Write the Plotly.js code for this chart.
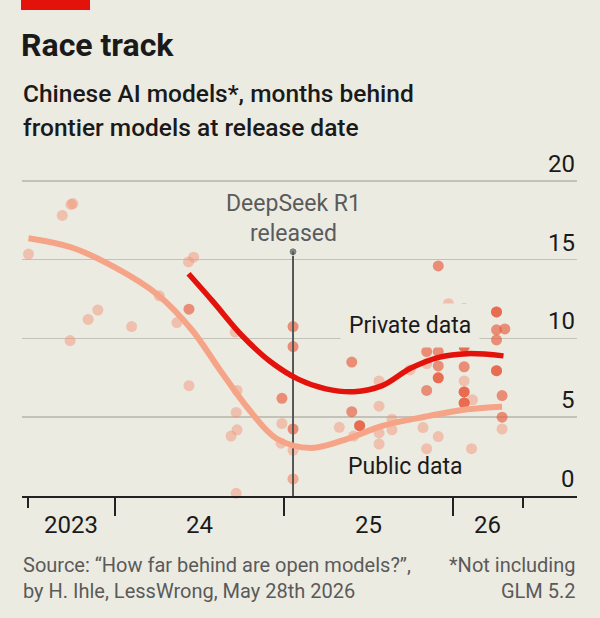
<!DOCTYPE html>
<html>
<head>
<meta charset="utf-8">
<script src="https://cdn.plot.ly/plotly-3.0.1.min.js"></script>
<style>
  html, body { margin: 0; padding: 0; background: #ecebe2; }
  #chart { width: 600px; height: 618px; }
</style>
</head>
<body>
<div id="chart"></div>
<script>
// ---------- data ----------
const publicDates = [
  '2023-06-28','2023-09-09','2023-09-28','2023-10-02','2023-11-04','2023-11-25','2023-09-26',
  '2024-02-06','2024-04-06','2024-05-14','2024-06-08','2024-06-19','2024-06-09',
  '2024-09-17','2024-09-21','2024-09-19','2024-09-21','2024-09-08','2024-09-19',
  '2024-12-27','2024-12-25','2025-01-20','2025-01-20','2025-01-20',
  '2025-04-30','2025-05-31','2025-07-25','2025-07-25','2025-07-25','2025-07-25',
  '2025-08-22','2025-08-22','2025-09-30','2025-10-28','2025-11-05','2025-11-05',
  '2025-11-30','2025-12-22','2026-01-25','2026-02-12','2026-02-10','2026-04-17'
];
const publicMonths = [
  15.35, 17.8, 18.5, 18.55, 11.2, 11.8, 9.86,
  10.75, 12.7, 11.0, 14.85, 15.15, 7.0,
  10.4, 6.7, 5.3, 4.2, 3.8, 0.17,
  4.6, 3.35, 2.9, 1.08, 1.08,
  4.36, 3.8, 7.3, 5.7, 4.0, 3.3,
  4.87, 4.2, 8.0, 4.34, 3.0, 8.4,
  3.77, 12.2, 7.3, 6.1, 3.0, 4.25
];

const privateDates = [
  '2024-06-09','2024-12-27','2025-01-20','2025-01-20','2025-01-20',
  '2025-05-27','2025-05-27','2025-06-13','2025-06-13',
  '2025-11-05','2025-11-05','2025-11-30','2025-11-30','2025-11-30','2025-11-30','2025-11-30',
  '2026-01-25','2026-01-25','2026-01-25','2026-01-25','2026-01-25','2026-01-25','2026-01-25','2026-01-25',
  '2026-04-05','2026-04-05','2026-04-05','2026-04-23','2026-04-05','2026-04-05','2026-04-05',
  '2026-04-17','2026-04-17'
];
const privateMonths = [
  11.85, 6.2, 10.75, 9.48, 4.25,
  8.5, 5.35, 4.46, 4.46,
  9.16, 6.7, 14.6, 9.16, 8.25, 7.5, 7.5,
  11.9, 9.48, 9.48, 8.2, 6.6, 6.6, 5.9, 5.9,
  11.68, 11.68, 10.54, 10.6, 9.9, 7.95, 7.95,
  6.37, 5.0
];

// smoothed trend lines
const publicTrendDates = [
  '2023-06-28','2023-10-01','2024-01-01','2024-04-01','2024-06-15','2024-08-15',
  '2024-10-15','2024-12-15','2025-03-01','2025-05-15','2025-08-01','2025-11-01',
  '2026-02-01','2026-04-17'
];
const publicTrend = [
  16.35, 15.75, 14.5, 12.8, 10.55, 8.0,
  5.55, 3.65, 3.05, 3.6, 4.45, 5.03,
  5.5, 5.67
];
const privateTrendDates = [
  '2024-06-08','2024-08-01','2024-10-01','2024-12-01','2025-02-01','2025-04-01',
  '2025-06-01','2025-08-01','2025-10-01','2025-12-01','2026-02-01','2026-04-20'
];
const privateTrend = [
  14.1, 12.3, 10.2, 8.55, 7.4, 6.8,
  6.62, 7.0, 8.1, 8.8, 9.03, 8.89
];

const eventDate = '2025-01-20';
const eventTop = 15.5;
const eventLabel = 'DeepSeek R1<br>released';

const yTickVals = [0, 5, 10, 15, 20];
const yTickText = ['0', '5', '10', '15', '20'];
const xBoundaries = ['2023-06-27', '2024-01-01', '2025-01-01', '2026-01-01', '2026-06-01'];
const xTickLabels = ['2023', '24', '25', '26'];

// ---------- styling ----------
const BG = '#ecebe2';
const FONT = 'Roboto, "Open Sans", sans-serif';
const PLOT_TOP = 165, PLOT_BOTTOM = 496, PLOT_LEFT = 22, PLOT_RIGHT = 577;
const py = (px) => (PLOT_BOTTOM - px) / (PLOT_BOTTOM - PLOT_TOP);
const pxX = (px) => (px - PLOT_LEFT) / (PLOT_RIGHT - PLOT_LEFT);

function midDate(a, b) {
  const t = (new Date(a).getTime() + new Date(b).getTime()) / 2;
  return new Date(t).toISOString().slice(0, 10);
}

const traces = [
  {
    type: 'scatter', mode: 'markers', name: 'Public data',
    x: publicDates, y: publicMonths,
    marker: { size: 11, color: 'rgba(242,150,120,0.5)', line: { width: 0 } },
    hoverinfo: 'skip', cliponaxis: false
  },
  {
    type: 'scatter', mode: 'markers', name: 'Private data',
    x: privateDates, y: privateMonths,
    marker: { size: 11, color: 'rgba(232,90,60,0.65)', line: { width: 0 } },
    hoverinfo: 'skip', cliponaxis: false
  },
  {
    type: 'scatter', mode: 'lines+markers', name: 'event',
    x: [eventDate, eventDate], y: [0, eventTop],
    line: { color: '#555555', width: 2 },
    marker: { size: [0, 8], color: '#555555' },
    hoverinfo: 'skip'
  },
  {
    type: 'scatter', mode: 'lines', name: 'Public trend',
    x: publicTrendDates, y: publicTrend,
    line: { color: '#f6a488', width: 6, shape: 'spline', smoothing: 1 },
    hoverinfo: 'skip'
  },
  {
    type: 'scatter', mode: 'lines', name: 'Private trend',
    x: privateTrendDates, y: privateTrend,
    line: { color: '#e3120b', width: 5.5, shape: 'spline', smoothing: 1 },
    hoverinfo: 'skip'
  }
];

const annotations = [];
// x-axis period labels centred between boundary ticks
for (let i = 0; i < xTickLabels.length; i++) {
  annotations.push({
    text: xTickLabels[i], x: midDate(xBoundaries[i], xBoundaries[i + 1]),
    xref: 'x', yref: 'paper', y: py(524.5), xanchor: 'center', yanchor: 'middle',
    showarrow: false, font: { family: FONT, size: 24, color: '#1a1a1a' }
  });
}
// y-axis labels sitting on top of their gridlines at the right edge
for (let i = 0; i < yTickVals.length; i++) {
  annotations.push({
    text: yTickText[i], x: 1, xref: 'paper', y: yTickVals[i], yref: 'y',
    xanchor: 'right', yanchor: 'bottom', yshift: 1, showarrow: false,
    font: { family: FONT, size: 24, color: '#1a1a1a' }
  });
}
annotations.push(
  { text: 'Chinese AI models*, months behind', xref: 'paper', yref: 'paper',
    x: pxX(21), y: py(93), xanchor: 'left', yanchor: 'middle', showarrow: false,
    font: { family: FONT, size: 24.5, color: '#1a1a1a', weight: 500 } },
  { text: 'frontier models at release date', xref: 'paper', yref: 'paper',
    x: pxX(21), y: py(128), xanchor: 'left', yanchor: 'middle', showarrow: false,
    font: { family: FONT, size: 24.5, color: '#1a1a1a', weight: 500 } },
  { text: eventLabel, x: eventDate, y: 17.6, xref: 'x', yref: 'y',
    xanchor: 'center', yanchor: 'middle', showarrow: false, align: 'center',
    font: { family: FONT, size: 23, color: '#5b5b5b' } },
  { text: 'Private data', x: '2025-09-30', y: 10.79, xref: 'x', yref: 'y',
    xanchor: 'center', yanchor: 'middle', showarrow: false,
    bgcolor: BG, borderpad: 8,
    font: { family: FONT, size: 23, color: '#1a1a1a' } },
  { text: 'Public data', x: '2025-09-21', y: 1.9, xref: 'x', yref: 'y',
    xanchor: 'center', yanchor: 'middle', showarrow: false,
    font: { family: FONT, size: 23, color: '#1a1a1a' } },
  { text: 'Source: “How far behind are open models?”,<br>by H. Ihle, LessWrong, May 28th 2026',
    xref: 'paper', yref: 'paper', x: pxX(21), y: py(577.5), xanchor: 'left', yanchor: 'middle',
    align: 'left', showarrow: false, font: { family: FONT, size: 20, color: '#5a5a5a' } },
  { text: '*Not including<br>GLM 5.2',
    xref: 'paper', yref: 'paper', x: pxX(577), y: py(577.5), xanchor: 'right', yanchor: 'middle',
    align: 'right', showarrow: false, font: { family: FONT, size: 20, color: '#5a5a5a' } }
);

const layout = {
  width: 600, height: 618,
  paper_bgcolor: BG, plot_bgcolor: BG,
  margin: { l: PLOT_LEFT, r: 600 - PLOT_RIGHT, t: PLOT_TOP, b: 618 - PLOT_BOTTOM, pad: 0 },
  showlegend: false,
  title: {
    text: '<b>Race track</b>', x: 21 / 600, xref: 'container', xanchor: 'left',
    y: 1 - 45 / 618, yref: 'container', yanchor: 'middle',
    font: { family: FONT, size: 32, color: '#1a1a1a' }
  },
  xaxis: {
    type: 'date', range: ['2023-06-14', '2026-09-26'],
    showgrid: false, zeroline: false,
    showline: true, linecolor: '#222222', linewidth: 2,
    tickmode: 'array', tickvals: xBoundaries.slice(1, 4), showticklabels: false,
    ticks: 'outside', ticklen: 18, tickwidth: 2, tickcolor: '#222222',
    minor: { tickmode: 'array', tickvals: [xBoundaries[0], xBoundaries[4]],
             ticks: 'outside', ticklen: 10, tickwidth: 2, tickcolor: '#222222', showgrid: false },
    fixedrange: true
  },
  yaxis: {
    range: [0, 21],
    tickmode: 'array', tickvals: yTickVals, showticklabels: false, ticks: '',
    showgrid: true, gridcolor: '#c3c2b9', gridwidth: 1.5,
    zeroline: false, showline: false,
    fixedrange: true
  },
  shapes: [
    { type: 'rect', xref: 'paper', yref: 'paper', x0: pxX(21), x1: pxX(90), y0: py(10), y1: py(0),
      fillcolor: '#e3120b', line: { width: 0 } }
  ],
  annotations: annotations
};

Plotly.newPlot('chart', traces, layout, { displayModeBar: false, staticPlot: true });
</script>
</body>
</html>
